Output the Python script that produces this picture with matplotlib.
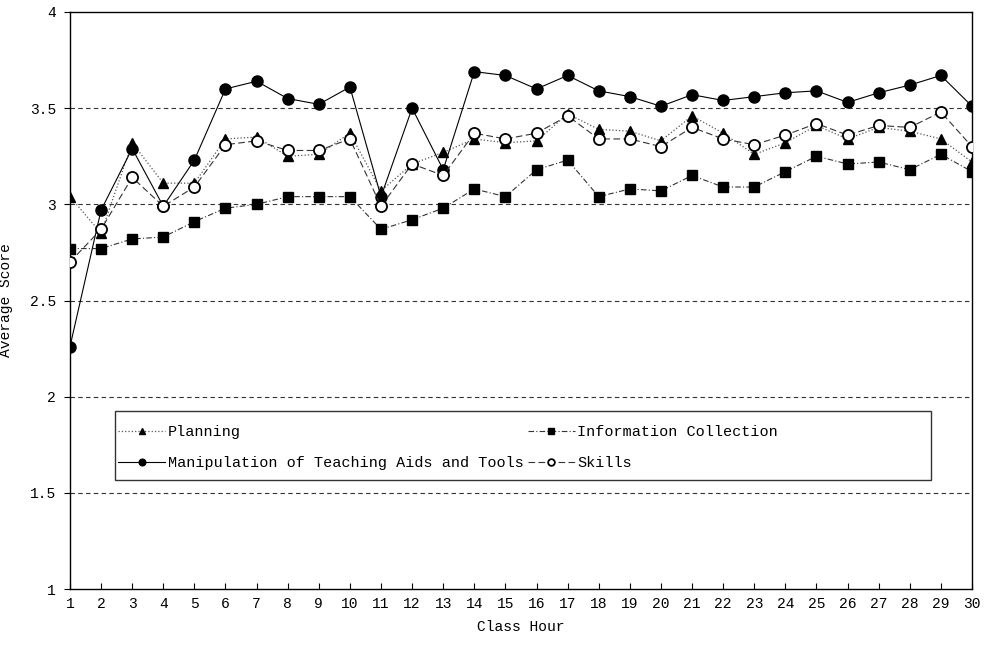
import matplotlib
matplotlib.use("Agg")
import matplotlib.pyplot as plt
from matplotlib.patches import Rectangle

# ==============================
# DATA
# ==============================

class_hours = list(range(1, 31))

planning = [3.04, 2.85, 3.32, 3.11, 3.11, 3.34, 3.35, 3.25, 3.26, 3.37,
            3.07, 3.21, 3.27, 3.34, 3.32, 3.33, 3.47, 3.39, 3.38, 3.33,
            3.46, 3.37, 3.26, 3.32, 3.41, 3.34, 3.40, 3.38, 3.34, 3.22]

info_collection = [2.77, 2.77, 2.82, 2.83, 2.91, 2.98, 3.00, 3.04, 3.04, 3.04,
                   2.87, 2.92, 2.98, 3.08, 3.04, 3.18, 3.23, 3.04, 3.08, 3.07,
                   3.15, 3.09, 3.09, 3.17, 3.25, 3.21, 3.22, 3.18, 3.26, 3.17]

manipulation = [2.26, 2.97, 3.29, 2.99, 3.23, 3.60, 3.64, 3.55, 3.52, 3.61,
                3.04, 3.50, 3.18, 3.69, 3.67, 3.60, 3.67, 3.59, 3.56, 3.51,
                3.57, 3.54, 3.56, 3.58, 3.59, 3.53, 3.58, 3.62, 3.67, 3.51]

skills = [2.70, 2.87, 3.14, 2.99, 3.09, 3.31, 3.33, 3.28, 3.28, 3.34,
          2.99, 3.21, 3.15, 3.37, 3.34, 3.37, 3.46, 3.34, 3.34, 3.30,
          3.40, 3.34, 3.31, 3.36, 3.42, 3.36, 3.41, 3.40, 3.48, 3.30]

y_ticks = [1, 1.5, 2, 2.5, 3, 3.5, 4]
y_tick_labels = ["1", "1.5", "2", "2.5", "3", "3.5", "4"]
grid_levels = [1.5, 2, 2.5, 3, 3.5]

FONT = "Liberation Mono"

# ==============================
# FIGURE
# ==============================

fig = plt.figure(figsize=(9.84, 6.45), dpi=100)
ax = fig.add_axes([0.0711, 0.0868, 0.9167, 0.8946])

for lvl in grid_levels:
    ax.axhline(lvl, color="#333333", lw=0.8, ls=(0, (4, 3)), zorder=1)

l_plan, = ax.plot(class_hours, planning, color="#555555", lw=0.9, ls=":",
                  marker="^", ms=7.5, mfc="black", mec="black", label="Planning", zorder=3)
l_info, = ax.plot(class_hours, info_collection, color="#333333", lw=0.8, ls=(0, (5, 2, 1, 2)),
                  marker="s", ms=7.5, mfc="black", mec="black",
                  label="Information Collection", zorder=3)
l_manip, = ax.plot(class_hours, manipulation, color="black", lw=0.8, ls="-",
                   marker="o", ms=8, mfc="black", mec="black",
                   label="Manipulation of Teaching Aids and Tools", zorder=4)
l_skill, = ax.plot(class_hours, skills, color="#333333", lw=0.8, ls=(0, (6, 3)),
                   marker="o", ms=8, mfc="white", mec="black", mew=1.3, label="Skills", zorder=5)

ax.set_xlim(1, 30)
ax.set_ylim(1, 4)
ax.set_xticks(class_hours)
ax.set_xticklabels([str(h) for h in class_hours], fontfamily=FONT, fontsize=10.5)
ax.set_yticks(y_ticks)
ax.set_yticklabels(y_tick_labels, fontfamily=FONT, fontsize=10.5)
ax.tick_params(axis="x", direction="in", length=4, pad=6)
ax.tick_params(axis="y", direction="out", length=4, pad=6)

for side in ["left", "right", "top", "bottom"]:
    ax.spines[side].set_linewidth(1.0)
    ax.spines[side].set_color("black")

ax.set_xlabel("Class Hour", fontfamily=FONT, fontsize=10.5, labelpad=6)
ax.set_ylabel("Average Score", fontfamily=FONT, fontsize=10.5, labelpad=12)

# legend: column-major fill, so order is col1 (Planning, Manipulation), col2 (Info, Skills)
handles = [l_plan, l_manip, l_info, l_skill]
leg = ax.legend(handles=handles, labels=[h.get_label() for h in handles],
                ncol=2, loc="upper left", bbox_to_anchor=(0.047, 0.295),
                frameon=False, prop={"family": FONT, "size": 10.9},
                handlelength=3.1, handletextpad=0.15, columnspacing=0.3,
                labelspacing=1.15, markerscale=0.6, borderaxespad=0)
ax.add_patch(Rectangle((0.0499, 0.189), 0.9046, 0.1195, transform=ax.transAxes,
                       fill=False, edgecolor="#333333", lw=1.0, zorder=2))

fig.savefig("out.png", dpi=100)
